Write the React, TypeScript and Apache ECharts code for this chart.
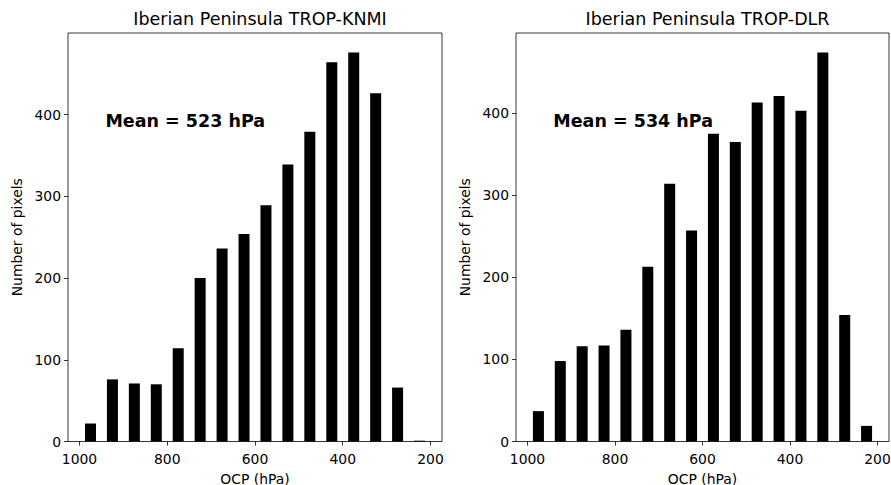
import React, { useEffect, useRef } from "react";
import * as echarts from "echarts";

const binCenters = [975, 925, 875, 825, 775, 725, 675, 625, 575, 525, 475, 425, 375, 325, 275, 225];
const knmiCounts = [22, 76, 71, 70, 114, 200, 236, 254, 289, 339, 379, 464, 476, 426, 66, 1];
const dlrCounts = [37, 98, 116, 117, 136, 213, 314, 257, 375, 365, 413, 421, 403, 474, 154, 19];
const xTicks = [1000, 800, 600, 400, 200];
const yTicks = [0, 100, 200, 300, 400];
const titles = ["Iberian Peninsula TROP-KNMI", "Iberian Peninsula TROP-DLR"];
const meanLabels = ["Mean = 523 hPa", "Mean = 534 hPa"];
const xName = "OCP (hPa)";
const yName = "Number of pixels";

const FONT = "DejaVu Sans";

export default function App() {
  const ref = useRef<HTMLDivElement>(null);
  useEffect(() => {
    if (!ref.current) return;
    const chart = echarts.init(ref.current, null, { renderer: "svg" });
    const grids = [
      { left: 68, top: 33, width: 374, height: 408.5 },
      { left: 516, top: 33, width: 373, height: 408.5 },
    ];
    const seriesData = [knmiCounts, dlrCounts];
    const axisCommon = {
      axisLine: { show: false },
      axisTick: { show: true, inside: false, length: 4, lineStyle: { color: "#000", width: 0.8 } },
      splitLine: { show: false },
    };
    chart.setOption({
      animation: false,
      backgroundColor: "#fff",
      title: grids.map((g, i) => ({
        text: titles[i],
        left: g.left + g.width / 2,
        textAlign: "center",
        top: 5,
        textStyle: { fontFamily: FONT, fontSize: 17.5, fontWeight: "normal", color: "#000" },
      })),
      grid: grids.map((g) => ({
        ...g,
        show: true,
        outerBoundsMode: "none",
        containLabel: false,
        borderColor: "#000",
        borderWidth: 0.8,
        backgroundColor: "transparent",
      })),
      xAxis: grids.map((g, i) => ({
        type: "value",
        gridIndex: i,
        inverse: true,
        min: 173.75,
        max: 1026.25,
        name: xName,
        nameLocation: "middle",
        nameGap: 30,
        nameTextStyle: { fontFamily: FONT, fontSize: 13.9, color: "#000" },
        ...axisCommon,
        axisTick: { ...axisCommon.axisTick, customValues: xTicks },
        axisLabel: {
          customValues: xTicks,
          formatter: (v: number) => String(v),
          fontFamily: FONT,
          fontSize: 13.9,
          color: "#000",
          margin: 10,
        },
      })),
      yAxis: grids.map((g, i) => ({
        type: "value",
        gridIndex: i,
        min: 0,
        max: Math.max(...seriesData[i]) * 1.05,
        name: yName,
        nameLocation: "middle",
        nameGap: 44,
        nameRotate: 90,
        nameTextStyle: { fontFamily: FONT, fontSize: 13.9, color: "#000" },
        ...axisCommon,
        axisTick: { ...axisCommon.axisTick, customValues: yTicks },
        axisLabel: {
          customValues: yTicks,
          formatter: (v: number) => String(v),
          fontFamily: FONT,
          fontSize: 13.9,
          color: "#000",
          margin: 7,
        },
      })),
      series: seriesData.map((vals, i) => ({
        type: "bar",
        xAxisIndex: i,
        yAxisIndex: i,
        barWidth: 11,
        itemStyle: { color: "#000" },
        data: binCenters.map((c, j) => [c, vals[j]]),
      })),
      graphic: grids.map((g, i) => ({
        type: "text",
        left: g.left + g.width * 0.1,
        top: 112,
        style: {
          text: meanLabels[i],
          fontFamily: FONT,
          fontSize: 17.5,
          fontWeight: "bold",
          fill: "#000",
        },
      })),
    });
    return () => chart.dispose();
  }, []);
  return <div ref={ref} style={{ width: 891, height: 485, position: "absolute", left: 0, top: 0 }} />;
}
